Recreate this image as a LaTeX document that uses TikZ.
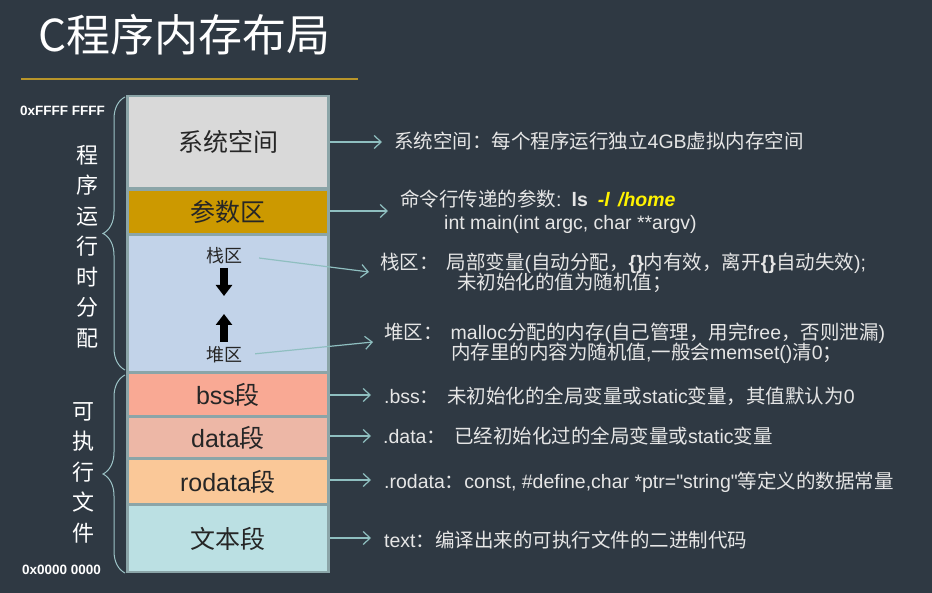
\documentclass[tikz,border=0pt]{standalone}
\usepackage{fontspec}
\setmainfont{Liberation Sans}
\newfontfamily\cjk{Noto Sans CJK SC}
\usetikzlibrary{arrows.meta,decorations.pathreplacing}
\definecolor{bgc}{HTML}{2F3943}
\definecolor{framec}{HTML}{8BA5A8}
\definecolor{sysc}{HTML}{D9D9D9}
\definecolor{argc}{HTML}{CC9900}
\definecolor{stkc}{HTML}{C2D3E9}
\definecolor{bssc}{HTML}{F9A994}
\definecolor{datac}{HTML}{EDB7A6}
\definecolor{rodc}{HTML}{FAC898}
\definecolor{txtc}{HTML}{BBE0E3}
\definecolor{goldc}{HTML}{B8952A}
\definecolor{bracec}{HTML}{9CC3C6}
\definecolor{connc}{HTML}{8FBFC0}
\definecolor{desc}{HTML}{E6E6E6}
\newcommand\zh[1]{{\cjk #1}}
\begin{document}
\begin{tikzpicture}[x=1pt,y=-1pt,
  seg/.style={draw=none,inner sep=0,minimum width=198pt,text=black!85,font=\cjk\fontsize{25}{28}\selectfont},
  latseg/.style={seg,font=\fontsize{25}{28}\selectfont},
  desctext/.style={anchor=base west,inner sep=0,text=desc,font=\fontsize{19.5}{23}\selectfont},
  conn/.style={draw=connc,line width=1.2pt,-{Straight Barb[length=7pt,width=13pt]}},
  bigarrow/.style={line width=8pt,-{Triangle[length=11pt,width=16pt]},black},
  bracestyle/.style={draw=bracec,line width=1pt,decorate,decoration={brace,amplitude=22pt}},
  vtext/.style={text=white,align=center,font=\cjk\fontsize{22}{30.5}\selectfont,inner sep=0},
  addr/.style={anchor=west,inner sep=0,text=white,font=\bfseries\fontsize{13.5}{16}\selectfont}]
\fill[bgc] (0,0) rectangle (932,593);
\useasboundingbox (0,0) rectangle (932,593);
% title
\node[anchor=west,inner sep=0,text=white,font=\cjk\fontsize{44}{50}\selectfont] (title) at (38,35) {C程序内存布局};
\coordinate (gl1) at (21,79);
\coordinate (gl2) at (358,79);
\draw[goldc,line width=1.5pt] (gl1) -- (gl2);
% frame and segments
\node[fill=framec,inner sep=0,minimum width=204pt,minimum height=478pt] (frame) at (228,334) {};
\node[seg,fill=sysc,minimum height=90pt] (sys) at (228,142) {系统空间};
\node[seg,fill=argc,minimum height=42pt] (arg) at (228,212) {参数区};
\node[seg,fill=stkc,minimum height=135pt] (stk) at (228,303.5) {};
\node[latseg,fill=bssc,minimum height=41pt] (bss) at (228,394.5) {bss\zh{段}};
\node[latseg,fill=datac,minimum height=39pt] (data) at (228,437.5) {data\zh{段}};
\node[latseg,fill=rodc,minimum height=43pt] (rod) at (228,481.5) {rodata\zh{段}};
\node[seg,fill=txtc,minimum height=65pt] (txt) at (228,538.5) {文本段};
\node[inner sep=1pt,text=black!85,font=\cjk\fontsize{18}{20}\selectfont] (stklbl) at (224,256) {栈区};
\node[inner sep=1pt,text=black!85,font=\cjk\fontsize{18}{20}\selectfont] (heaplbl) at (224,355) {堆区};
\coordinate (da1) at (224,268);
\coordinate (da2) at (224,296);
\coordinate (ua1) at (224,342);
\coordinate (ua2) at (224,314);
\draw[bigarrow] (da1) -- (da2);
\draw[bigarrow] (ua1) -- (ua2);
% braces
\coordinate (b1a) at (125,370);
\coordinate (b1b) at (125,97);
\coordinate (b2a) at (125,573);
\coordinate (b2b) at (125,375);
\draw[bracestyle] (b1a) -- (b1b);
\draw[bracestyle] (b2a) -- (b2b);
\node[vtext] (vt1) at (87,246.5) {程\\序\\运\\行\\时\\分\\配};
\node[vtext] (vt2) at (83,472.5) {可\\执\\行\\文\\件};
\node[addr] (hiaddr) at (20,111) {0xFFFF FFFF};
\node[addr] (loaddr) at (22,570) {0x0000 0000};
% descriptions
\node[desctext] (systxt) at (394,149) {\zh{系统空间：每个程序运行独立}4GB\zh{虚拟内存空间}};
\node[desctext] (argtxt1) at (400,207) {\zh{命令行传递的参数}:\hspace{10pt}\textbf{ls}\hspace{10pt}\textcolor{yellow}{\textbf{\textit{-l}}\hspace{8pt}\textbf{\textit{/home}}}};
\node[desctext] (argtxt2) at (444,230) {int main(int argc, char **argv)};
\node[desctext] (stktxt1) at (380,270) {\zh{栈区：}\hspace{8pt}\zh{局部变量}(\zh{自动分配，}\textbf{\{\}}\zh{内有效，离开}\textbf{\{\}}\zh{自动失效});};
\node[desctext] (stktxt2) at (457,290) {\zh{未初始化的值为随机值；}};
\node[desctext] (heaptxt1) at (384,340) {\zh{堆区：}\hspace{8pt}malloc\zh{分配的内存}(\zh{自己管理，用完}free\zh{，否则泄漏})};
\node[desctext] (heaptxt2) at (451,360) {\zh{内存里的内容为随机值},\zh{一般会}memset()\zh{清}0\zh{；}};
\node[desctext] (bsstxt) at (384,404) {.bss\zh{：}\hspace{8pt}\zh{未初始化的全局变量或}static\zh{变量，其值默认为}0};
\node[desctext] (datatxt) at (383,444) {.data\zh{：}\hspace{8pt}\zh{已经初始化过的全局变量或}static\zh{变量}};
\node[desctext] (rodtxt) at (384,488) {.rodata\zh{：}const, \#define,char *ptr=\textquotedbl string\textquotedbl\zh{等定义的数据常量}};
\node[desctext] (txttxt) at (384,547) {text\zh{：编译出来的可执行文件的二进制代码}};
% connectors
\coordinate (a1) at (382,142);
\coordinate (a2) at (388,211);
\coordinate (a3) at (369,272);
\coordinate (a4) at (373,342);
\coordinate (a5) at (371,395);
\coordinate (a6) at (371,436);
\coordinate (a7) at (371,480);
\coordinate (a8) at (371,538);
\draw[conn] (frame.east |- a1) -- (a1);
\draw[conn] (frame.east |- a2) -- (a2);
\draw[conn,shorten <=16pt] (stklbl.east) -- (a3);
\draw[conn,shorten <=12pt] (heaplbl.east) -- (a4);
\draw[conn] (frame.east |- a5) -- (a5);
\draw[conn] (frame.east |- a6) -- (a6);
\draw[conn] (frame.east |- a7) -- (a7);
\draw[conn] (frame.east |- a8) -- (a8);
\end{tikzpicture}
\end{document}
